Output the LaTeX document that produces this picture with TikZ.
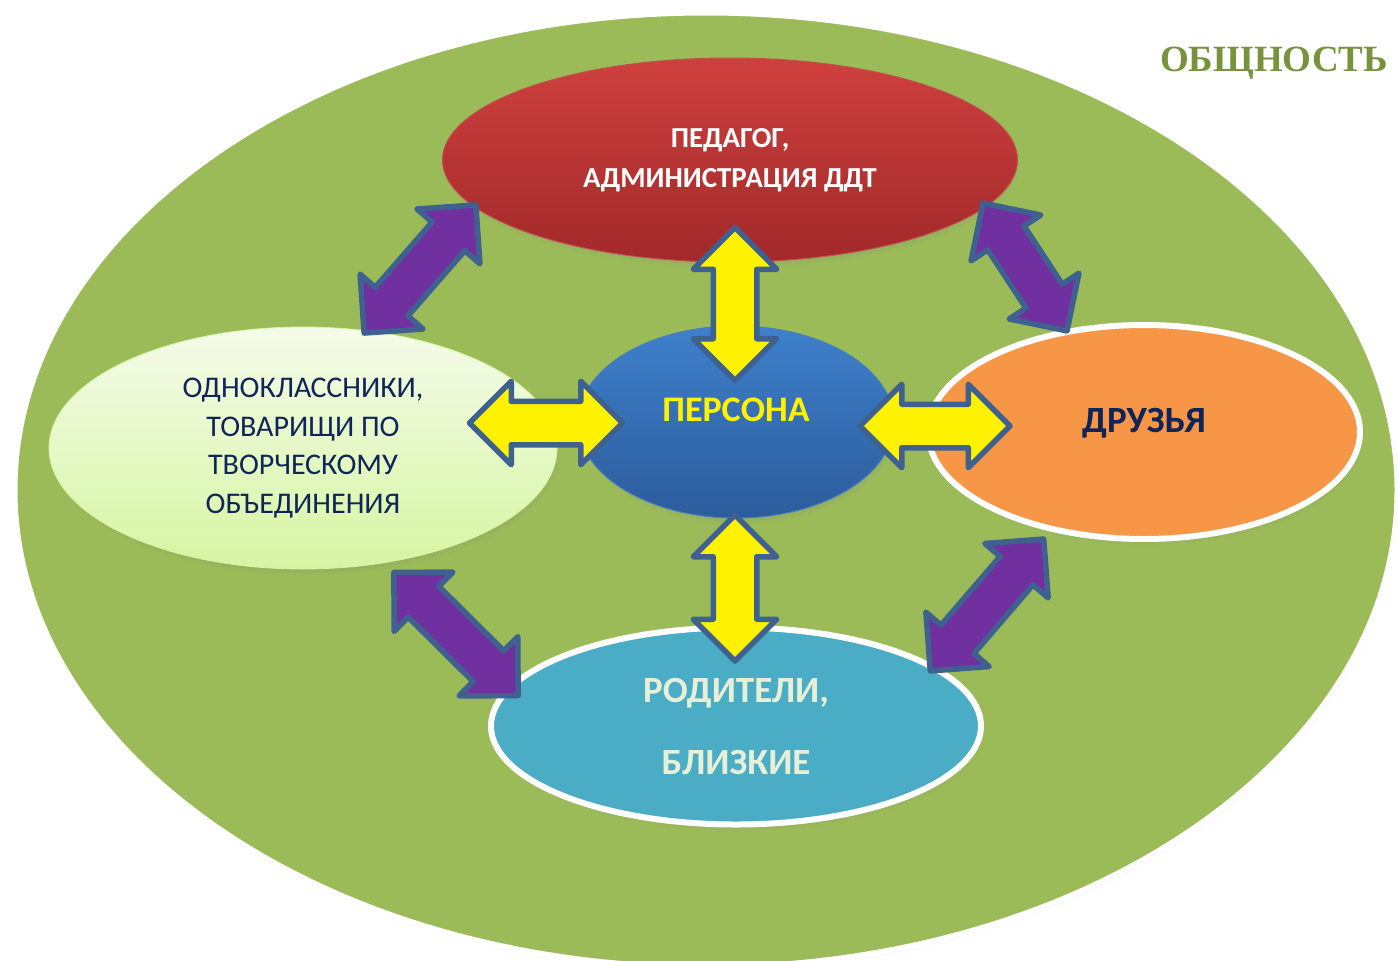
\documentclass[tikz,border=0pt]{standalone}
\usepackage{fontspec}
\setmainfont{Carlito}
\newfontfamily\titlefont{Liberation Serif}
\usetikzlibrary{shapes.geometric,shapes.arrows,shadows}

\definecolor{bggreen}{HTML}{9BBB59}
\definecolor{titlegreen}{HTML}{77933C}
\definecolor{redtop}{HTML}{CE403E}
\definecolor{redbot}{HTML}{A2292A}
\definecolor{redline}{HTML}{C0504D}
\definecolor{lefttop}{HTML}{F5FBEA}
\definecolor{leftbot}{HTML}{D6F5A2}
\definecolor{bluetop}{HTML}{3E80CC}
\definecolor{bluebot}{HTML}{2C5C9C}
\definecolor{blueline}{HTML}{4A7EBB}
\definecolor{orng}{HTML}{F79646}
\definecolor{tealfill}{HTML}{4BACC6}
\definecolor{navytext}{HTML}{0F2457}
\definecolor{paletext}{HTML}{E6EFD8}
\definecolor{arrline}{HTML}{3F6190}
\definecolor{purp}{HTML}{7030A0}

\tikzset{
  oval/.style={ellipse,inner sep=0pt,align=center},
  shad/.style={circular drop shadow={shadow scale=1.0,shadow xshift=3pt,shadow yshift=-6pt,opacity=0.5}},
  yarr/.style={double arrow,draw=arrline,fill=yellow,line width=5.5pt,line join=round,
    inner sep=0pt,inner ysep=19pt,double arrow head extend=20pt},
  parr/.style={yarr,fill=purp},
}

\begin{document}
\begin{tikzpicture}[x=1pt,y=-1pt]
    \useasboundingbox[fill=white] (0,0) rectangle (1398,961);

    % community
    \node[oval,draw=white,line width=5pt,fill=bggreen,minimum width=1382pt,minimum height=954pt,
      circular drop shadow={shadow scale=1.0,shadow xshift=5pt,shadow yshift=-5pt,opacity=0.35}] (obsh) at (706,490) {};
    \node[font=\titlefont\bfseries\fontsize{37}{42}\selectfont,text=titlegreen] (title) at (1274,63) {ОБЩНОСТЬ};

    % circles
    \node[oval,shad,minimum width=575pt,minimum height=204pt,top color=redtop,bottom color=redbot,
      draw=redline,line width=1pt,text=white,font=\bfseries\fontsize{29}{40}\selectfont] (ped) at (730,160) {ПЕДАГОГ,\\АДМИНИСТРАЦИЯ ДДТ};
    \node[oval,shad,minimum width=508pt,minimum height=242pt,top color=lefttop,bottom color=leftbot,
      draw=leftbot,line width=0.8pt,text=navytext,font=\fontsize{30}{38.7}\selectfont] (odn) at (303,448) {ОДНОКЛАССНИКИ,\\ТОВАРИЩИ ПО\\ТВОРЧЕСКОМУ\\ОБЪЕДИНЕНИЯ};
    \node[oval,shad,minimum width=316pt,minimum height=192pt,top color=bluetop,bottom color=bluebot,
      draw=blueline,line width=1pt,text=yellow,font=\bfseries\fontsize{36}{40}\selectfont,
      text height=23pt,text depth=25pt] (pers) at (736,422) {ПЕРСОНА};
    \node[oval,shad,minimum width=432pt,minimum height=214pt,fill=orng,draw=white,line width=6pt,
      text=navytext,font=\bfseries\fontsize{37}{42}\selectfont,text height=23pt,text depth=22pt] (dru) at (1144,432) {ДРУЗЬЯ};
    \node[oval,shad,minimum width=490pt,minimum height=197pt,fill=tealfill,draw=white,line width=6pt,
      text=paletext,font=\bfseries\fontsize{37}{72}\selectfont] (rod) at (736,726) {РОДИТЕЛИ,\\БЛИЗКИЕ};

    % arrows
    \node[yarr,minimum height=153pt,rotate=90] (a1) at (735,304) {};
    \node[yarr,minimum height=146pt,rotate=90] (a2) at (735,588) {};
    \node[yarr,minimum height=153pt] (a3) at (546,423) {};
    \node[yarr,minimum height=150pt] (a4) at (935,426) {};
    \node[parr,minimum height=170pt,rotate=48.9] (a5) at (420,269) {};
    \node[parr,minimum height=153pt,rotate=-56.7] (a6) at (1025,267) {};
    \node[parr,minimum height=175pt,rotate=-44.8] (a7) at (456,634) {};
    \node[parr,minimum height=174pt,rotate=49.3] (a8) at (987,605) {};
\end{tikzpicture}
\end{document}
